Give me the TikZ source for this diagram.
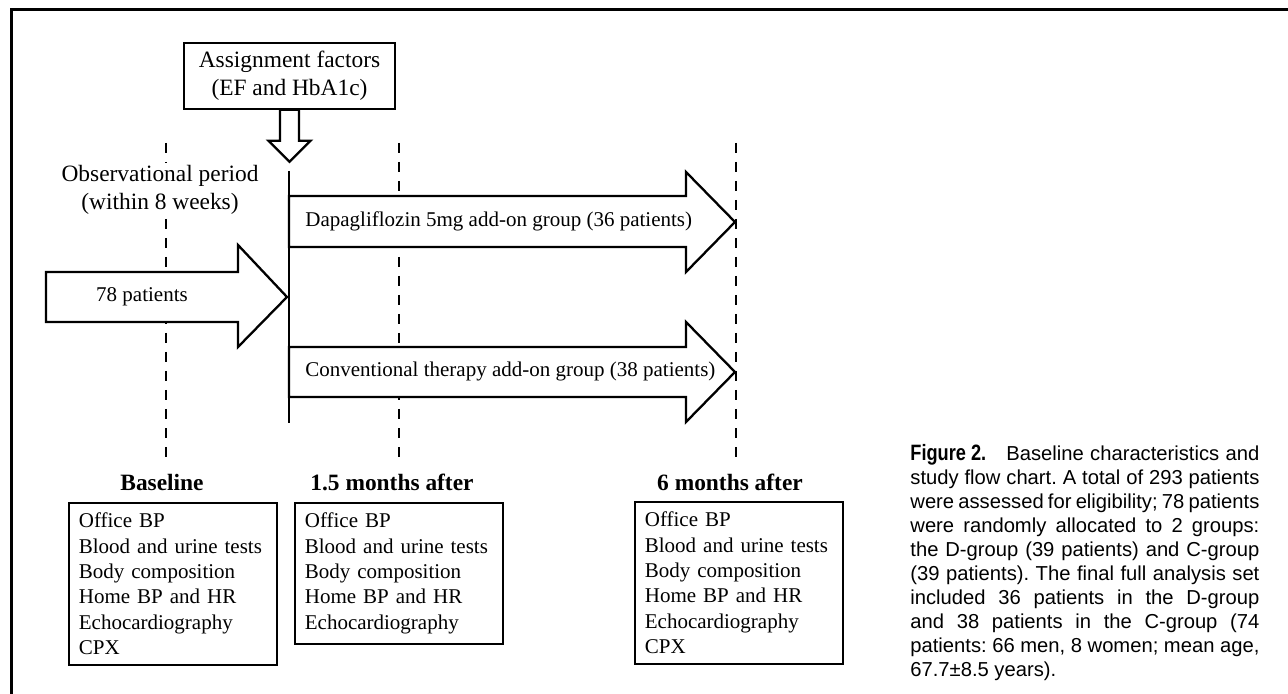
\documentclass[tikz,border=0pt]{standalone}
\usepackage{fontspec}
\setmainfont{Liberation Serif}
\newfontfamily\capsans{Liberation Sans}
\usetikzlibrary{positioning}

\begin{document}
\begin{tikzpicture}[
    x=0.5pt, y=-0.5pt,
    frame/.style={line width=1.5pt},
    splitline/.style={line width=1.15pt},
    timeline/.style={line width=1.2pt, dash pattern=on 5pt off 4.5pt},
    blockarrow/.style={draw, fill=white, line width=1.15pt, line join=miter},
    bigtext/.style={font=\fontsize{11.7}{14}\selectfont},
    heading/.style={font=\bfseries\fontsize{11.7}{14}\selectfont, anchor=base, inner sep=0pt},
    armtext/.style={font=\fontsize{10.5}{12.7}\selectfont, inner sep=0pt},
    infobox/.style={draw, line width=0.85pt, anchor=north west, align=left,
        text width=94pt, inner xsep=5pt, inner ysep=5pt,
        font=\fontsize{10.5}{12.7}\selectfont},
    caption/.style={anchor=north west, inner sep=0pt, align=justify, text width=174.5pt,
        font=\capsans\fontsize{10.1}{12}\selectfont\frenchspacing}
]
\useasboundingbox (0,0) rectangle (1288,694);

% Frame
\draw[frame] (11,694) -- (11,9.5) -- (1288,9.5);

% Time points
\foreach \x in {166,399,736}
    \draw[timeline] (\x,143) -- (\x,462);

% Assignment
\node[bigtext, draw, line width=0.85pt, align=center, minimum width=105.5pt, minimum height=33pt]
    (assign) at (289.5,76) {Assignment factors\\(EF and HbA1c)};
\draw[blockarrow] ([xshift=-4.75pt]assign.south) -- ++(0,31) -- ++(-11.5,0) -- ++(21,21)
    -- ++(21,-21) -- ++(-11.5,0) -- ++(0,-31) -- cycle;

% Observational period
\node[bigtext, fill=white, align=center, inner sep=1pt] (obsperiod) at (160,190)
    {Observational period\\(within 8 weeks)};

% All patients
\draw[blockarrow] (46,272) -- (238,272) -- (238,245) -- (287,297) -- (238,347) -- (238,322) -- (46,322) -- cycle;
\node[armtext] (txtall) at (142,297) {78 patients};

% Groups
\draw[blockarrow] (289,196) -- (686,196) -- (686,172) -- (735,222) -- (686,272) -- (686,247) -- (289,247) -- cycle;
\node[armtext, anchor=base west] (txtdapa) at (305,227) {Dapagliflozin 5mg add-on group (36 patients)};

\draw[blockarrow] (289,347) -- (686,347) -- (686,322) -- (735,372) -- (686,422) -- (686,397) -- (289,397) -- cycle;
\node[armtext, anchor=base west] (txtconv) at (305,377) {Conventional therapy add-on group (38 patients)};

% Split
\coordinate (splittop) at (289,171);
\coordinate (splitbot) at (289,423);
\draw[splitline] (splittop) -- (splitbot);

% Examinations
\node[heading] (lblbase) at (162,490) {Baseline};
\node[heading] (lblmid) at (392,490) {1.5 months after};
\node[heading] (lblend) at (730,490) {6 months after};

\node[infobox] (boxbase) at (68,502) {Office BP\\Blood and urine tests\\Body composition\\Home BP and HR\\Echocardiography\\CPX};
\node[infobox] (boxmid) at (294,502) {Office BP\\Blood and urine tests\\Body composition\\Home BP and HR\\Echocardiography};
\node[infobox] (boxend) at (634,501) {Office BP\\Blood and urine tests\\Body composition\\Home BP and HR\\Echocardiography\\CPX};

% Caption
\node[caption] (caption) at (910,444) {%
\scalebox{0.9}[1.1]{\bfseries Figure 2.}\hspace{1em}Baseline characteristics and\linebreak
study flow chart. A total of 293 patients\linebreak
were assessed for eligibility; 78 patients\linebreak
were randomly allocated to 2 groups:\linebreak
the D-group (39 patients) and C-group\linebreak
(39 patients). The final full analysis set\linebreak
included 36 patients in the D-group\linebreak
and 38 patients in the C-group (74\linebreak
patients: 66 men, 8 women; mean age,\linebreak
67.7±8.5 years).};

\end{tikzpicture}
\end{document}
